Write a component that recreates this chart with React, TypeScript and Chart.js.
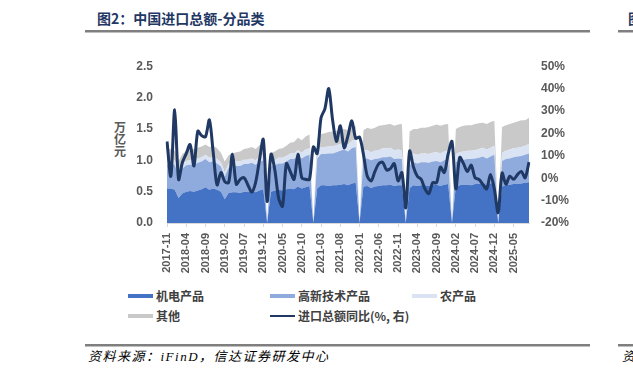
import React, { useEffect, useRef } from 'react';
import { Chart, registerables } from 'chart.js';

Chart.register(...registerables);

const MONTHS = [
  '2017-11', '2017-12',
  '2018-01', '2018-02', '2018-03', '2018-04', '2018-05', '2018-06', '2018-07', '2018-08', '2018-09', '2018-10', '2018-11', '2018-12',
  '2019-01', '2019-02', '2019-03', '2019-04', '2019-05', '2019-06', '2019-07', '2019-08', '2019-09', '2019-10', '2019-11', '2019-12',
  '2020-01', '2020-02', '2020-03', '2020-04', '2020-05', '2020-06', '2020-07', '2020-08', '2020-09', '2020-10', '2020-11', '2020-12',
  '2021-01', '2021-02', '2021-03', '2021-04', '2021-05', '2021-06', '2021-07', '2021-08', '2021-09', '2021-10', '2021-11', '2021-12',
  '2022-01', '2022-02', '2022-03', '2022-04', '2022-05', '2022-06', '2022-07', '2022-08', '2022-09', '2022-10', '2022-11', '2022-12',
  '2023-01', '2023-02', '2023-03', '2023-04', '2023-05', '2023-06', '2023-07', '2023-08', '2023-09', '2023-10', '2023-11', '2023-12',
  '2024-01', '2024-02', '2024-03', '2024-04', '2024-05', '2024-06', '2024-07', '2024-08', '2024-09', '2024-10', '2024-11', '2024-12',
  '2025-01', '2025-02', '2025-03', '2025-04', '2025-05', '2025-06', '2025-07', '2025-08', '2025-09',
];

const TICK_LABELS = [
  '2017-11', '2018-04', '2018-09', '2019-02', '2019-07', '2019-12', '2020-05', '2020-10', '2021-03', '2021-08',
  '2022-01', '2022-06', '2022-11', '2023-04', '2023-09', '2024-02', '2024-07', '2024-12', '2025-05',
];

// 机电产品 (万亿元)
const JIDIAN = [
  0.55, 0.55,
  0.53, 0.40, 0.47, 0.50, 0.51, 0.50, 0.52, 0.54, 0.57, 0.53, 0.55, 0.53,
  0.50, 0.38, 0.48, 0.49, 0.49, 0.48, 0.50, 0.50, 0.51, 0.49, 0.52, 0.54,
  0, 0.50, 0.52, 0.53, 0.52, 0.54, 0.55, 0.54, 0.58, 0.55, 0.57, 0.59,
  0, 0.55, 0.60, 0.60, 0.59, 0.60, 0.60, 0.61, 0.62, 0.60, 0.63, 0.64,
  0, 0.58, 0.59, 0.56, 0.58, 0.59, 0.60, 0.60, 0.61, 0.59, 0.60, 0.60,
  0, 0.56, 0.60, 0.59, 0.60, 0.60, 0.59, 0.60, 0.61, 0.59, 0.61, 0.62,
  0, 0.58, 0.60, 0.61, 0.61, 0.60, 0.62, 0.62, 0.63, 0.61, 0.63, 0.65,
  0, 0.58, 0.60, 0.61, 0.62, 0.62, 0.63, 0.64, 0.65,
];

// 高新技术产品 (万亿元)
const GAOXIN = [
  0.38, 0.40,
  0.40, 0.37, 0.40, 0.42, 0.42, 0.43, 0.44, 0.44, 0.45, 0.44, 0.43, 0.42,
  0.40, 0.36, 0.40, 0.41, 0.42, 0.43, 0.44, 0.44, 0.45, 0.44, 0.45, 0.46,
  0, 0.40, 0.40, 0.42, 0.43, 0.44, 0.47, 0.48, 0.49, 0.48, 0.50, 0.50,
  0, 0.48, 0.50, 0.50, 0.52, 0.51, 0.53, 0.54, 0.55, 0.54, 0.56, 0.57,
  0, 0.45, 0.44, 0.44, 0.44, 0.44, 0.45, 0.45, 0.45, 0.43, 0.43, 0.42,
  0, 0.36, 0.37, 0.36, 0.37, 0.37, 0.37, 0.38, 0.38, 0.38, 0.39, 0.40,
  0, 0.39, 0.40, 0.40, 0.41, 0.42, 0.41, 0.42, 0.43, 0.42, 0.43, 0.44,
  0, 0.41, 0.42, 0.42, 0.43, 0.44, 0.44, 0.45, 0.46,
];

// 农产品 (万亿元)
const NONG = [
  0.07, 0.07,
  0.07, 0.06, 0.07, 0.07, 0.07, 0.07, 0.07, 0.07, 0.07, 0.07, 0.07, 0.07,
  0.07, 0.06, 0.07, 0.07, 0.07, 0.07, 0.07, 0.07, 0.07, 0.07, 0.08, 0.08,
  0, 0.08, 0.08, 0.09, 0.09, 0.09, 0.09, 0.09, 0.09, 0.09, 0.10, 0.10,
  0, 0.10, 0.11, 0.11, 0.11, 0.11, 0.11, 0.11, 0.11, 0.11, 0.12, 0.12,
  0, 0.13, 0.13, 0.13, 0.13, 0.13, 0.14, 0.14, 0.14, 0.14, 0.14, 0.14,
  0, 0.13, 0.14, 0.14, 0.14, 0.14, 0.14, 0.14, 0.14, 0.14, 0.14, 0.14,
  0, 0.13, 0.13, 0.13, 0.13, 0.13, 0.13, 0.14, 0.14, 0.14, 0.14, 0.14,
  0, 0.13, 0.13, 0.14, 0.14, 0.14, 0.14, 0.14, 0.15,
];

// 其他 (万亿元)
const QITA = [
  0.17, 0.16,
  0.15, 0.16, 0.16, 0.16, 0.17, 0.18, 0.17, 0.17, 0.16, 0.17, 0.18, 0.17,
  0.15, 0.18, 0.13, 0.14, 0.15, 0.16, 0.17, 0.18, 0.18, 0.18, 0.19, 0.19,
  0, 0.14, 0.14, 0.14, 0.15, 0.16, 0.17, 0.18, 0.20, 0.20, 0.21, 0.22,
  0, 0.22, 0.21, 0.22, 0.23, 0.24, 0.23, 0.23, 0.22, 0.23, 0.22, 0.22,
  0, 0.32, 0.36, 0.37, 0.37, 0.39, 0.37, 0.38, 0.38, 0.39, 0.40, 0.42,
  0, 0.41, 0.39, 0.41, 0.41, 0.41, 0.43, 0.43, 0.44, 0.44, 0.43, 0.42,
  0, 0.40, 0.40, 0.41, 0.41, 0.41, 0.42, 0.41, 0.40, 0.41, 0.41, 0.40,
  0, 0.41, 0.41, 0.41, 0.41, 0.42, 0.43, 0.41, 0.42,
];

// 进口总额同比 (%, 右轴)
const YOY = [
  16.4, 0.9,
  30.5, -0.5, 7, 11, 15, 5.5, 21, 19, 18.5, 26, 11.5, -3,
  2.5, -1.5, -2, 10.7, -2.7, -0.5, 0.2, -3, -6.2, -2, 8, 17.3,
  -10.4, 10.7, 3.7, -9, -12.5, 6.5, 3, -0.5, 10.7, 0.2, -0.5, -0.5,
  14, 11, 27, 31, 40, 26, 16.4, 23.4, 13.6, 19, 25.6, 17.8,
  18.3, 10.7, 0.9, -1.2, 3, 6.5, 7.1, 3.7, 4.3, 6.5, -1.2, 2.5,
  -13.2, 12.1, 5, 0.9, -0.5, -4.8, -6.9, -2, -2, 5, 2.5, 10.7,
  16.4, -4.8, 9.3, 6.5, 3, 5.8, 0.2, -0.5, -2.7, -4.8, 1.6, -4.8,
  -15.4, 2.3, -2.7, 0.9, -0.5, 1.6, 3, 0.2, 7.2,
];

const TICK_FONT = { family: '"Liberation Sans", Arial, sans-serif', size: 12, weight: 'bold' as const };
const X_FONT = { family: '"Liberation Sans", Arial, sans-serif', size: 11, weight: 'bold' as const };
const TICK_COLOR = '#595959';

const LEGEND = [
  { label: '机电产品', color: '#4472C4', line: false, left: 128, top: 289 },
  { label: '高新技术产品', color: '#8FAADC', line: false, left: 270, top: 289 },
  { label: '农产品', color: '#DAE3F3', line: false, left: 412, top: 289 },
  { label: '其他', color: '#C9C9C9', line: false, left: 128, top: 309 },
  { label: '进口总额同比(%, 右)', color: '#1F3864', line: true, left: 270, top: 309 },
];

export default function App() {
  const canvasRef = useRef<HTMLCanvasElement>(null);

  useEffect(() => {
    const canvas = canvasRef.current;
    if (!canvas) return;
    const chart = new Chart(canvas, {
      type: 'line',
      data: {
        labels: MONTHS,
        datasets: [
          {
            label: '进口总额同比(%, 右)',
            data: YOY,
            yAxisID: 'y1',
            borderColor: '#1F3864',
            backgroundColor: '#1F3864',
            borderWidth: 3,
            pointRadius: 0,
            tension: 0.3,
            fill: false,
            order: 0,
          },
          {
            label: '机电产品',
            data: JIDIAN,
            yAxisID: 'y',
            borderWidth: 0,
            borderColor: 'rgba(0,0,0,0)',
            backgroundColor: '#4472C4',
            pointRadius: 0,
            tension: 0,
            fill: 'origin',
            order: 1,
          },
          {
            label: '高新技术产品',
            data: GAOXIN,
            yAxisID: 'y',
            borderWidth: 0,
            borderColor: 'rgba(0,0,0,0)',
            backgroundColor: '#8FAADC',
            pointRadius: 0,
            tension: 0,
            fill: '-1',
            order: 1,
          },
          {
            label: '农产品',
            data: NONG,
            yAxisID: 'y',
            borderWidth: 0,
            borderColor: 'rgba(0,0,0,0)',
            backgroundColor: '#DAE3F3',
            pointRadius: 0,
            tension: 0,
            fill: '-1',
            order: 1,
          },
          {
            label: '其他',
            data: QITA,
            yAxisID: 'y',
            borderWidth: 0,
            borderColor: 'rgba(0,0,0,0)',
            backgroundColor: '#C9C9C9',
            pointRadius: 0,
            tension: 0,
            fill: '-1',
            order: 1,
          },
        ],
      },
      options: {
        animation: false,
        responsive: false,
        devicePixelRatio: 1,
        layout: { padding: { top: 12, left: 0, right: 0, bottom: 0 } },
        plugins: {
          legend: { display: false },
          tooltip: { enabled: false },
        },
        scales: {
          x: {
            offset: false,
            grid: {
              drawOnChartArea: false,
              drawTicks: true,
              tickLength: 4,
              color: (ctx: any) => (TICK_LABELS.includes(MONTHS[ctx.index]) ? '#D9D9D9' : 'rgba(0,0,0,0)'),
            },
            border: { display: true, color: '#D9D9D9', width: 1 },
            ticks: {
              autoSkip: false,
              minRotation: 90,
              maxRotation: 90,
              padding: 6,
              color: TICK_COLOR,
              font: X_FONT,
              callback: (_v: any, i: number) => (TICK_LABELS.includes(MONTHS[i]) ? MONTHS[i] : ''),
            },
            afterFit: (s: any) => {
              s.height = 62;
            },
          },
          y: {
            position: 'left',
            stacked: true,
            min: 0,
            max: 2.5,
            grid: { display: false, drawTicks: false },
            border: { display: false },
            ticks: {
              stepSize: 0.5,
              padding: 14,
              color: TICK_COLOR,
              font: TICK_FONT,
              callback: (v: any) => Number(v).toFixed(1),
            },
            afterFit: (s: any) => {
              s.width = 67;
            },
          },
          y1: {
            position: 'right',
            stacked: false,
            min: -20,
            max: 50,
            grid: { display: false, drawTicks: false },
            border: { display: false },
            ticks: {
              stepSize: 10,
              padding: 12,
              color: TICK_COLOR,
              font: TICK_FONT,
              callback: (v: any) => `${v}%`,
            },
            afterFit: (s: any) => {
              s.width = 51;
            },
          },
        },
      },
    });
    return () => chart.destroy();
  }, []);

  const cjk = '"Noto Sans CJK SC", "Noto Sans", sans-serif';

  return (
    <div
      style={{
        position: 'fixed',
        left: 0,
        top: 0,
        width: 633,
        height: 376,
        overflow: 'hidden',
        background: '#ffffff',
      }}
    >
      {/* title */}
      <div
        style={{
          position: 'absolute',
          left: 97,
          top: 8,
          fontFamily: cjk,
          fontWeight: 'bold',
          fontSize: 14,
          lineHeight: '20px',
          color: '#1F3864',
          whiteSpace: 'nowrap',
        }}
      >
        图2：中国进口总额-分品类
      </div>
      <div
        style={{
          position: 'absolute',
          left: 628,
          top: 8,
          fontFamily: cjk,
          fontWeight: 'bold',
          fontSize: 14,
          lineHeight: '20px',
          color: '#1F3864',
          whiteSpace: 'nowrap',
        }}
      >
        图
      </div>
      {/* top rules */}
      <div style={{ position: 'absolute', left: 85, top: 30, width: 505, height: 2, background: '#7F7F7F' }} />
      <div style={{ position: 'absolute', left: 85, top: 32, width: 505, height: 1, background: '#BFBFBF' }} />
      <div style={{ position: 'absolute', left: 618, top: 30, width: 15, height: 2, background: '#7F7F7F' }} />
      <div style={{ position: 'absolute', left: 618, top: 32, width: 15, height: 1, background: '#BFBFBF' }} />

      {/* y-axis unit */}
      <div
        style={{
          position: 'absolute',
          left: 113,
          top: 121,
          width: 14,
          fontFamily: cjk,
          fontWeight: 'bold',
          fontSize: 12,
          lineHeight: '12px',
          color: '#595959',
          textAlign: 'center',
        }}
      >
        <div>万</div>
        <div>亿</div>
        <div>元</div>
      </div>

      <canvas
        ref={canvasRef}
        width={480}
        height={240}
        style={{ position: 'absolute', left: 100, top: 45, width: 480, height: 240 }}
      />

      {/* legend */}
      {LEGEND.map((it) => (
        <div
          key={it.label}
          style={{ position: 'absolute', left: it.left, top: it.top, height: 14, display: 'flex', alignItems: 'center' }}
        >
          <div
            style={{
              width: 25,
              height: it.line ? 2 : 4,
              background: it.color,
              marginRight: 3,
            }}
          />
          <span
            style={{
              fontFamily: cjk,
              fontWeight: 'bold',
              fontSize: 12,
              lineHeight: '14px',
              color: '#404040',
              whiteSpace: 'nowrap',
            }}
          >
            {it.label}
          </span>
        </div>
      ))}

      {/* bottom rules */}
      <div style={{ position: 'absolute', left: 85, top: 344, width: 505, height: 2, background: '#7F7F7F' }} />
      <div style={{ position: 'absolute', left: 85, top: 346, width: 505, height: 1, background: '#BFBFBF' }} />
      <div style={{ position: 'absolute', left: 618, top: 344, width: 15, height: 2, background: '#7F7F7F' }} />
      <div style={{ position: 'absolute', left: 618, top: 346, width: 15, height: 1, background: '#BFBFBF' }} />

      {/* source */}
      <div
        style={{
          position: 'absolute',
          left: 88,
          top: 349,
          fontFamily: '"Liberation Serif", "Noto Sans CJK SC", serif',
          fontStyle: 'italic',
          fontSize: 13,
          letterSpacing: '1.5px',
          lineHeight: '16px',
          color: '#000000',
          whiteSpace: 'nowrap',
        }}
      >
        资料来源：iFinD，信达证券研发中心
      </div>
      <div
        style={{
          position: 'absolute',
          left: 622,
          top: 349,
          fontFamily: '"Liberation Serif", "Noto Sans CJK SC", serif',
          fontStyle: 'italic',
          fontSize: 13,
          lineHeight: '16px',
          color: '#000000',
          whiteSpace: 'nowrap',
        }}
      >
        资
      </div>
    </div>
  );
}
